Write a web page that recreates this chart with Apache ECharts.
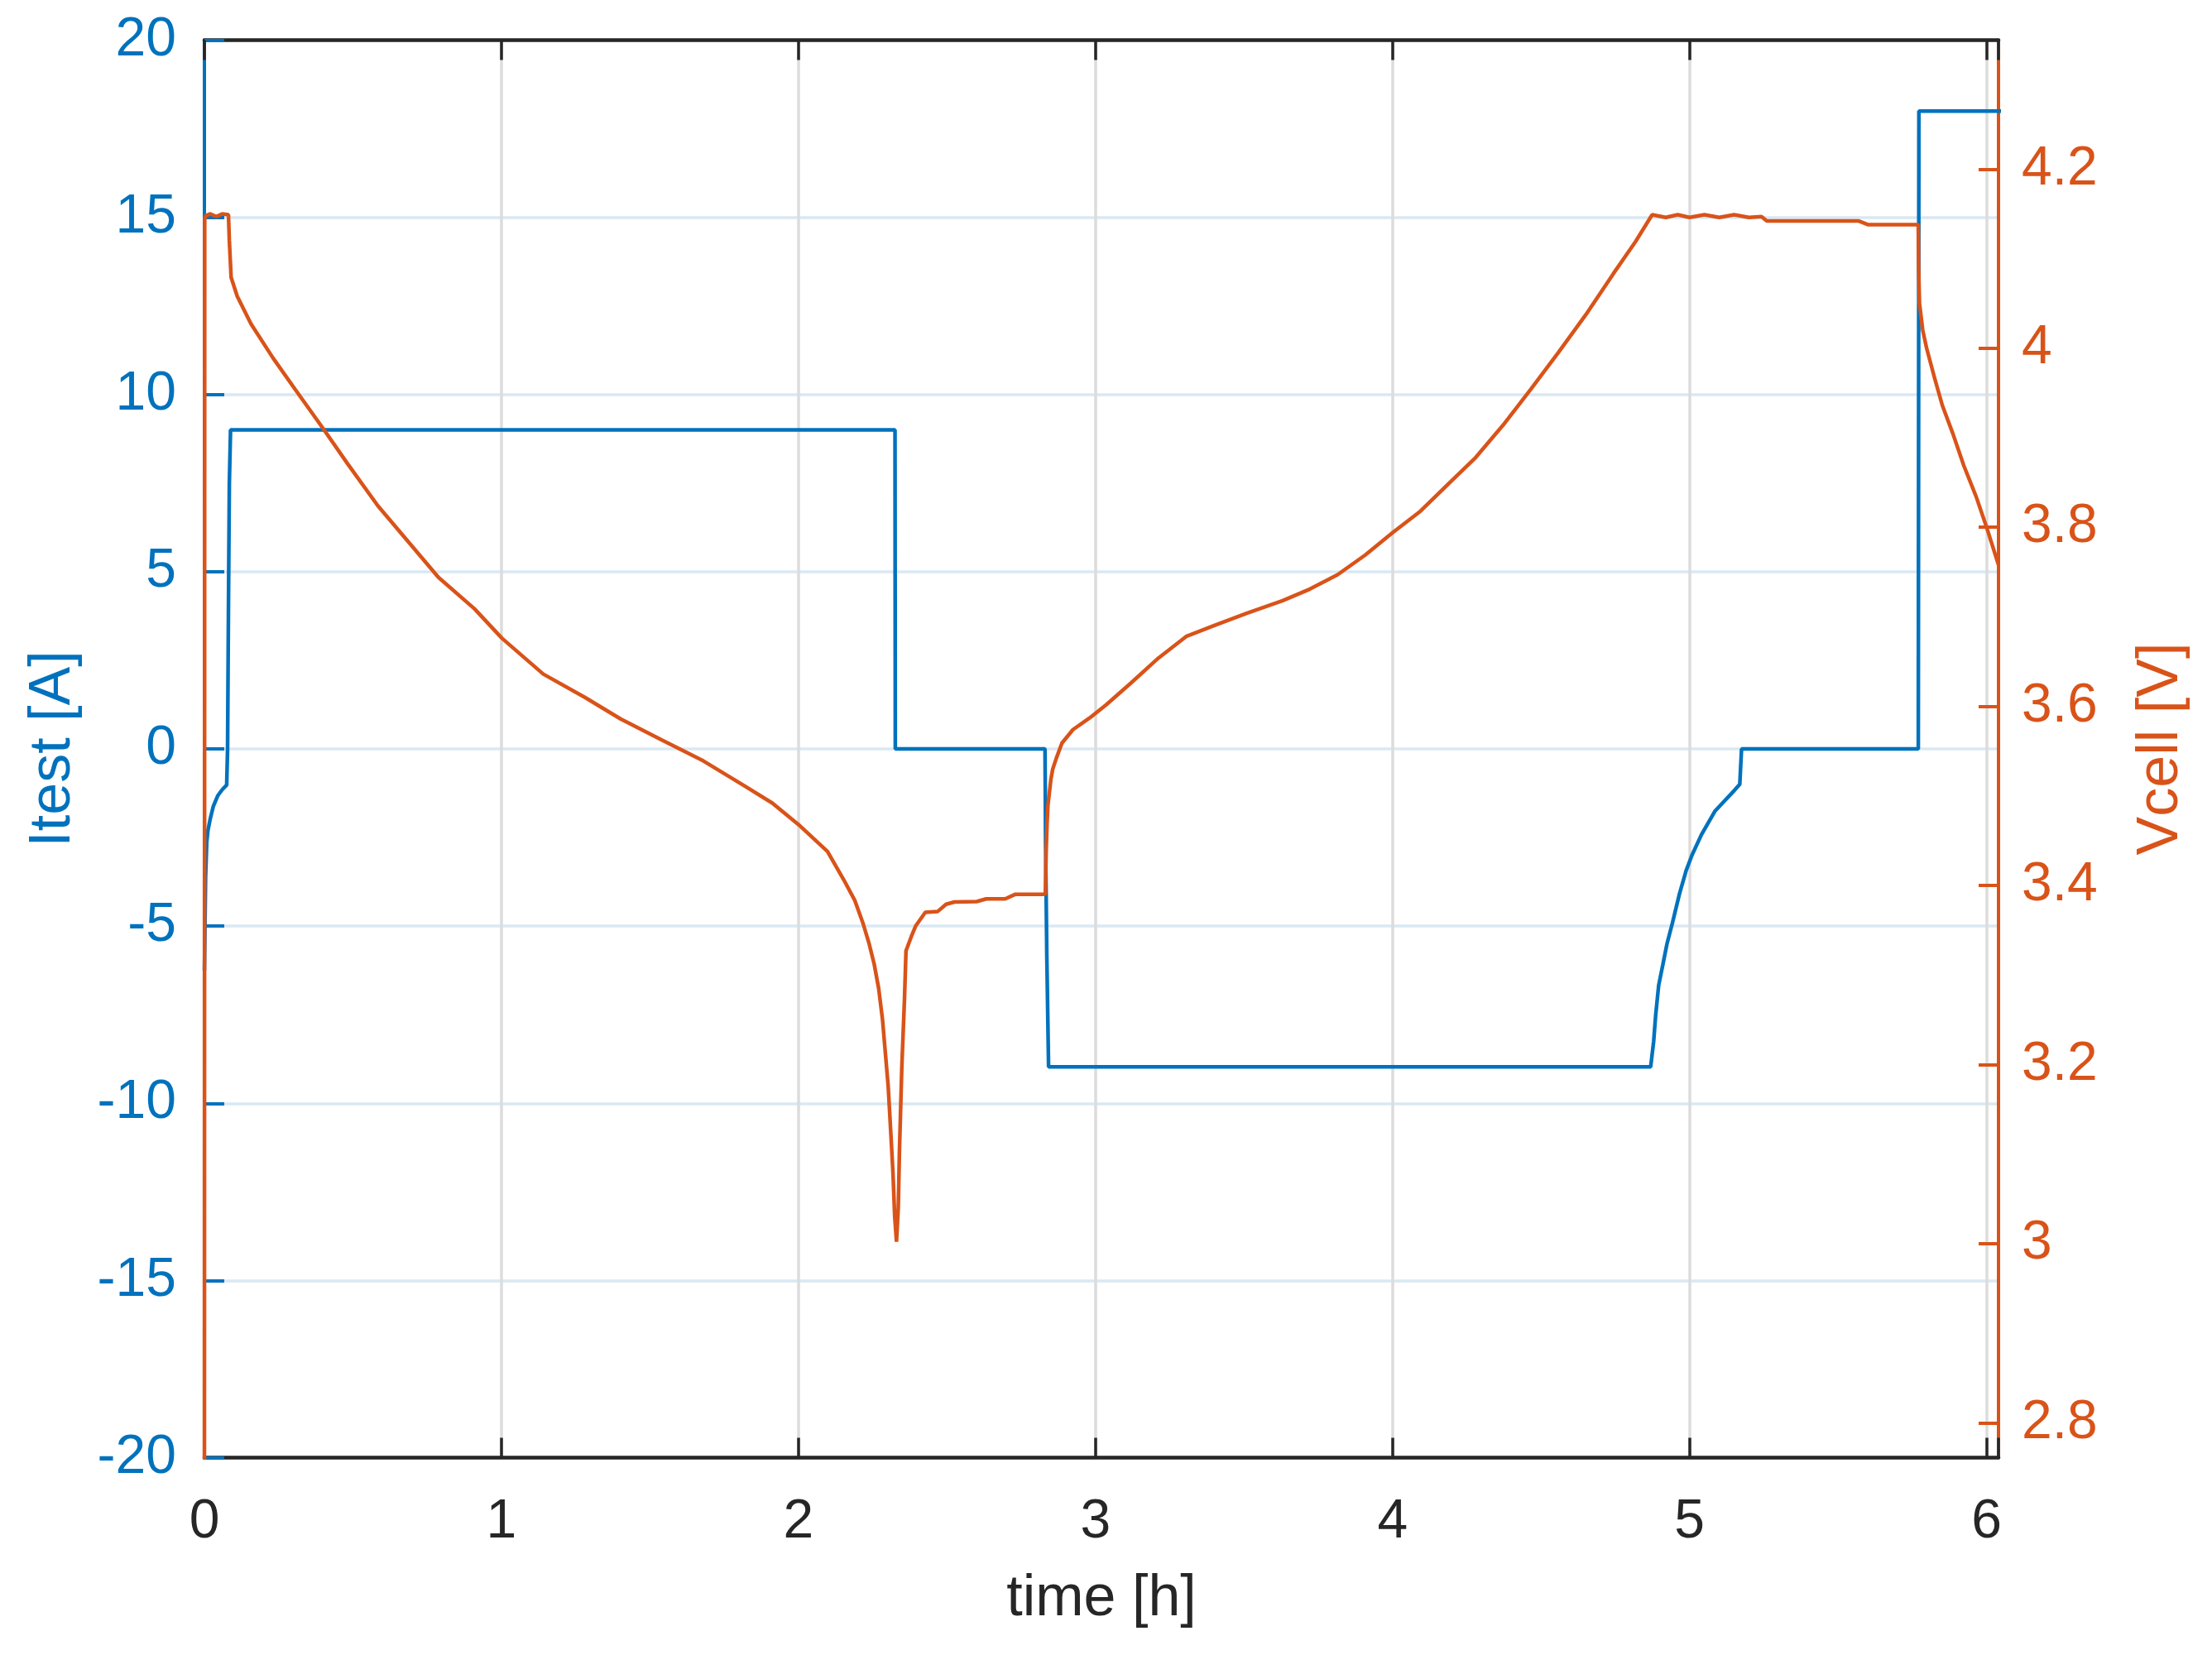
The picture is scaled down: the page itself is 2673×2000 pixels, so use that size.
<!DOCTYPE html>
<html>
<head>
<meta charset="utf-8">
<script src="https://cdn.jsdelivr.net/npm/echarts@6/dist/echarts.min.js"></script>
<style>
  html, body { margin: 0; padding: 0; background: #fff; }
  #chart { width: 2673px; height: 2000px; }
</style>
</head>
<body>
<div id="chart"></div>
<script>
// test current (blue, left axis)
var timeI = [0, 0.004, 0.008, 0.012, 0.02, 0.03, 0.045, 0.06, 0.075, 0.078, 0.081, 0.084, 0.088,
  2.325, 2.326, 2.83, 2.832, 2.836, 2.842, 3.2, 3.6, 4.1, 4.5, 4.869,
  4.879, 4.886, 4.896, 4.91, 4.924, 4.942, 4.966, 4.989, 5.008, 5.04, 5.086, 5.114, 5.151, 5.169, 5.175,
  5.77, 5.772, 6.05];
var currentI = [-6.25, -3.6, -2.63, -2.3, -1.96, -1.62, -1.32, -1.15, -1.02, 0, 4, 7.5, 9,
  9, 0, 0, -2.7, -5.8, -8.97, -8.97, -8.97, -8.97, -8.97, -8.97,
  -8.26, -7.5, -6.67, -6.09, -5.5, -4.92, -4.09, -3.42, -3.0, -2.42, -1.75, -1.5, -1.17, -1.0, 0,
  0, 18, 18];

// cell voltage (orange, right axis)
var timeV = [0, 0.001, 0.005, 0.02, 0.04, 0.06, 0.081, 0.084, 0.09, 0.1105, 0.157, 0.231, 0.3055,
  0.398, 0.482, 0.584, 0.686, 0.788, 0.909, 1.002, 1.141, 1.281, 1.401, 1.54, 1.68, 1.819,
  1.912, 2.0, 2.0975, 2.153, 2.19, 2.218, 2.237, 2.255, 2.27, 2.283, 2.302, 2.311, 2.318, 2.324,
  2.33, 2.336, 2.34, 2.348, 2.357, 2.362, 2.38, 2.395, 2.427, 2.469, 2.497, 2.525, 2.6, 2.632,
  2.696, 2.729, 2.831, 2.834, 2.837, 2.84, 2.85, 2.856, 2.868, 2.887, 2.924, 2.98, 3.035, 3.119,
  3.212, 3.305, 3.398, 3.509, 3.63, 3.722, 3.815, 3.908, 4.0, 4.094, 4.187, 4.28, 4.372, 4.465,
  4.558, 4.651, 4.744, 4.818, 4.874, 4.92, 4.96, 5.0, 5.05, 5.1, 5.15, 5.2, 5.242, 5.26, 5.57,
  5.6, 5.77, 5.771, 5.774, 5.785, 5.798, 5.827, 5.851, 5.887, 5.923, 5.965, 6.0, 6.04];
var voltV = [2.6, 4.145, 4.148, 4.15, 4.147, 4.15, 4.149, 4.12, 4.079, 4.058, 4.027, 3.989, 3.954,
  3.911, 3.871, 3.824, 3.784, 3.744, 3.709, 3.676, 3.636, 3.61, 3.586, 3.5625, 3.539, 3.511,
  3.492, 3.468, 3.438, 3.406, 3.383, 3.357, 3.336, 3.312, 3.285, 3.25, 3.176, 3.123, 3.08, 3.03,
  3.002, 3.04, 3.104, 3.198, 3.274, 3.327, 3.343, 3.355, 3.37, 3.371, 3.379, 3.3815, 3.382, 3.385,
  3.385, 3.39, 3.39, 3.44, 3.47, 3.49, 3.519, 3.53, 3.542, 3.559, 3.574, 3.587, 3.6015, 3.626,
  3.654, 3.678, 3.69, 3.704, 3.718, 3.731, 3.747, 3.769, 3.794, 3.818, 3.848, 3.878, 3.914, 3.954,
  3.995, 4.0375, 4.0835, 4.119, 4.149, 4.146, 4.149, 4.146, 4.149, 4.146, 4.149, 4.146, 4.147, 4.142, 4.142,
  4.138, 4.138, 4.09, 4.05, 4.02, 4.0, 3.964, 3.936, 3.904, 3.869, 3.834, 3.8, 3.758];

var hourTicks = [0, 1, 2, 3, 4, 5, 6];
var voltTicks = [2.8, 3, 3.2, 3.4, 3.6, 3.8, 4, 4.2];

var BLUE = '#0072BD';
var ORANGE = '#D95319';
var DARK = '#262626';
var FONT = 'Liberation Sans';

function pairs (xs, ys) {
    var out = [];
    for (var i = 0; i < xs.length; i++) {
        out.push([xs[i], ys[i]]);
    }
    return out;
}

var chart = echarts.init(document.getElementById('chart'));
var option = {
    animation: false,
    backgroundColor: '#fff',
    grid: { left: 247, right: 258, top: 48.5, bottom: 238.5, containLabel: false },
    xAxis: [ {
        type: 'value',
        position: 'bottom',
        min: 0,
        max: 6.04,
        interval: 1,
        z: 1,
        name: 'time [h]',
        nameLocation: 'middle',
        nameGap: 136,
        nameTextStyle: { color: DARK, fontSize: 70, fontFamily: FONT },
        axisLine: { onZero: false, lineStyle: { color: DARK, width: 4.5 } },
        axisTick: { inside: true, length: 24, lineStyle: { color: DARK, width: 3.5 } },
        axisLabel: {
            color: DARK, fontSize: 66, fontFamily: FONT, margin: 45,
            formatter: function (v) {
                return hourTicks.indexOf(v) >= 0 ? String(v) : '';
            }
        },
        splitLine: { show: true, lineStyle: { color: '#DCDCDC', width: 3.5 } }
    }, {
        type: 'value',
        position: 'top',
        min: 0,
        max: 6.04,
        interval: 1,
        z: 1,
        axisLine: { onZero: false, lineStyle: { color: DARK, width: 4.5 } },
        axisTick: { inside: true, length: 24, lineStyle: { color: DARK, width: 3.5 } },
        axisLabel: { show: false },
        splitLine: { show: false }
    } ],
    yAxis: [ {
        type: 'value',
        position: 'left',
        min: -20,
        max: 20,
        interval: 5,
        z: 1,
        name: 'Itest [A]',
        nameLocation: 'middle',
        nameRotate: 90,
        nameGap: 147,
        nameTextStyle: { color: BLUE, fontSize: 70, fontFamily: FONT },
        axisLine: { show: true, onZero: false, lineStyle: { color: BLUE, width: 4 } },
        axisTick: { show: true, inside: true, length: 24, lineStyle: { color: BLUE, width: 4 } },
        axisLabel: { color: BLUE, fontSize: 66, fontFamily: FONT, margin: 34 },
        splitLine: { show: true, lineStyle: { color: '#DAE8F3', width: 3.5 } }
    }, {
        type: 'value',
        position: 'right',
        min: 2.761,
        max: 4.344,
        z: 1,
        name: 'Vcell [V]',
        nameLocation: 'middle',
        nameRotate: 90,
        nameGap: 162,
        nameTextStyle: { color: ORANGE, fontSize: 70, fontFamily: FONT },
        axisLine: { show: true, onZero: false, lineStyle: { color: ORANGE, width: 4 } },
        axisTick: { show: true, inside: true, length: 24, customValues: voltTicks,
            lineStyle: { color: ORANGE, width: 4 } },
        axisLabel: { color: ORANGE, fontSize: 66, fontFamily: FONT, margin: 28, customValues: voltTicks },
        splitLine: { show: false }
    } ],
    series: [ {
        name: 'Itest',
        type: 'line',
        xAxisIndex: 0,
        yAxisIndex: 0,
        showSymbol: false,
        clip: true,
        lineStyle: { color: BLUE, width: 4.5 },
        data: pairs(timeI, currentI)
    }, {
        name: 'Vcell',
        type: 'line',
        xAxisIndex: 0,
        yAxisIndex: 1,
        showSymbol: false,
        clip: true,
        lineStyle: { color: ORANGE, width: 4.5 },
        data: pairs(timeV, voltV)
    } ]
};
chart.setOption(option);
</script>
</body>
</html>
